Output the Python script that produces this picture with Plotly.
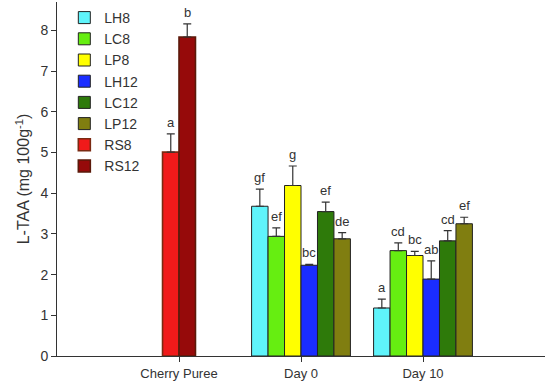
import plotly.graph_objects as go

categories = ["Cherry Puree", "Day 0", "Day 10"]
series = ["LH8", "LC8", "LP8", "LH12", "LC12", "LP12", "RS8", "RS12"]
colors = ["#5ff4fb", "#66ee11", "#ffff00", "#1a2dff", "#2e7a0a", "#807e10", "#f01a1a", "#960a0a"]
outlines = ["#222222"] * 6 + ["#7a2a12", "#5a1a0a"]

# values per series: {category: value}
values = {
    "LH8":  {"Day 0": 3.68, "Day 10": 1.18},
    "LC8":  {"Day 0": 2.94, "Day 10": 2.59},
    "LP8":  {"Day 0": 4.19, "Day 10": 2.47},
    "LH12": {"Day 0": 2.23, "Day 10": 1.89},
    "LC12": {"Day 0": 3.55, "Day 10": 2.83},
    "LP12": {"Day 0": 2.88, "Day 10": 3.25},
    "RS8":  {"Cherry Puree": 5.01},
    "RS12": {"Cherry Puree": 7.84},
}
errors = {
    "LH8":  {"Day 0": 0.42, "Day 10": 0.22},
    "LC8":  {"Day 0": 0.21, "Day 10": 0.19},
    "LP8":  {"Day 0": 0.48, "Day 10": 0.10},
    "LH12": {"Day 0": 0.02, "Day 10": 0.45},
    "LC12": {"Day 0": 0.23, "Day 10": 0.25},
    "LP12": {"Day 0": 0.15, "Day 10": 0.16},
    "RS8":  {"Cherry Puree": 0.45},
    "RS12": {"Cherry Puree": 0.32},
}
letters = {
    "LH8":  {"Day 0": "gf", "Day 10": "a"},
    "LC8":  {"Day 0": "ef", "Day 10": "cd"},
    "LP8":  {"Day 0": "g", "Day 10": "bc"},
    "LH12": {"Day 0": "bc", "Day 10": "ab"},
    "LC12": {"Day 0": "ef", "Day 10": "cd"},
    "LP12": {"Day 0": "de", "Day 10": "ef"},
    "RS8":  {"Cherry Puree": "a"},
    "RS12": {"Cherry Puree": "b"},
}
y_ticks = [0, 1, 2, 3, 4, 5, 6, 7, 8]

BAR_W = 0.135
FONT = "Liberation Sans"

fig = go.Figure()
for si, s in enumerate(series):
    xs, ys, es = [], [], []
    for ci, c in enumerate(categories):
        present = [t for t in series if c in values[t]]
        if c not in values[s]:
            continue
        k = present.index(s)
        pos = ci + (k - (len(present) - 1) / 2) * BAR_W
        xs.append(pos)
        ys.append(values[s][c])
        es.append(errors[s][c])
        fig.add_annotation(x=pos, y=values[s][c] + errors[s][c], text=letters[s][c],
                           showarrow=False, yanchor="bottom", yshift=2,
                           font=dict(family=FONT, size=13, color="#333333"))
    fig.add_trace(go.Bar(
        x=xs, y=ys, width=BAR_W, name=s,
        marker=dict(color=colors[si], line=dict(color=outlines[si], width=1 if si < 6 else 1.6)),
        error_y=dict(type="data", symmetric=False, array=es, arrayminus=[0] * len(es),
                     color="#333333", thickness=1.2, width=4),
    ))

fig.update_layout(
    width=550, height=391,
    margin=dict(l=57, r=5, t=2, b=35),
    plot_bgcolor="white", paper_bgcolor="white",
    barmode="overlay",
    font=dict(family=FONT, size=13, color="#333333"),
    showlegend=True,
    legend=dict(x=0.015, y=1.0, xanchor="left", yanchor="top", bgcolor="rgba(0,0,0,0)",
                font=dict(family=FONT, size=14, color="#333333"), tracegroupgap=0, itemwidth=30),
    xaxis=dict(range=[-1, 3], tickvals=[0, 1, 2], ticktext=categories, showgrid=False,
               zeroline=False, showline=True, linecolor="#333333", linewidth=1,
               ticks="outside", ticklen=5, tickcolor="#333333", automargin=False,
               tickfont=dict(family=FONT, size=13)),
    yaxis=dict(range=[0, 8.7], tickvals=y_ticks, showgrid=False, zeroline=False,
               showline=True, linecolor="#333333", linewidth=1, ticks="outside",
               ticklen=5, tickcolor="#333333", automargin=False,
               tickfont=dict(family=FONT, size=14),
               title=dict(text="L-TAA (mg 100g<sup>-1</sup>)", font=dict(family=FONT, size=16), standoff=6)),
)

fig.write_html("out.html", config={"displayModeBar": False},
               post_script="document.body.style.margin='0';document.body.style.padding='0';")
